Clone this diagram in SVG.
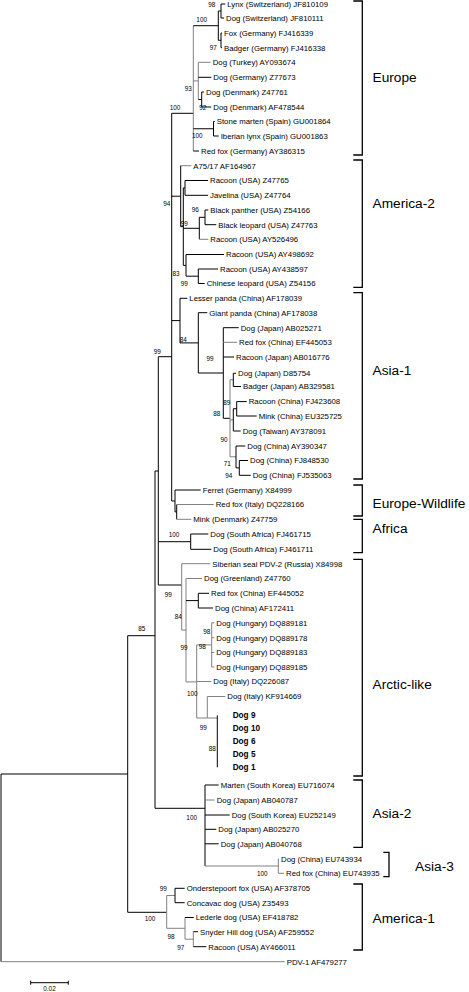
<svg xmlns="http://www.w3.org/2000/svg" width="469" height="992" viewBox="0 0 469 992">
<style>
.t{font-family:"Liberation Sans",Arial,sans-serif;font-size:7.8px;fill:#000}
.b{font-family:"Liberation Sans",Arial,sans-serif;font-size:8.2px;font-weight:bold;fill:#000}
.bs{font-family:"Liberation Sans",Arial,sans-serif;font-size:6.4px;fill:#000;text-anchor:middle}
.cl{font-family:"Liberation Sans",Arial,sans-serif;font-size:13.7px;fill:#000}
.k{fill:none;stroke:#000;stroke-width:1}
.g{fill:none;stroke:#808080;stroke-width:1}
.br{fill:none;stroke:#000;stroke-width:1.3}
</style>
<rect width="469" height="992" fill="#fff"/>
<g id="connectors">
<path class="k" d="M1,774V961.7M1,774H127.7M127.7,635.7V912.3M127.7,635.7H155M127.7,912.3H166.7M155,471V808.3M155,471H158.3M155,808.3H205M158.3,356.7V585M158.3,356.7H171.7M158.3,541.7H190.7M158.3,585H181.7M171.7,113.3V501M171.7,113.3H193.3M171.7,196.2H180.7M171.7,320.6H180M171.7,501H175"/>
<path class="g" d="M1,961.7H284.7"/>
<path class="g" d="M193.3,25.7V151"/>
<path class="k" d="M193.3,25.7H218.3M218.3,11V40.3M218.3,11H221M221,4V18M221,4H225.3M221,18H224M218.3,40.3H221M221,33V47.7M221,33H222M221,47.7H222"/>
<path class="g" d="M193.3,80.9H198.3M198.3,62.3V99.5M198.3,62.3H210.7"/>
<path class="k" d="M198.3,77.3H211.3M198.3,99.5H201.7M201.7,92V107M201.7,92H204M201.7,107H211.3M193.3,128.75H213.5M213.5,121.5V136M213.5,121.5H214.7M213.5,136H218.7M193.3,151H199"/>
<path class="g" d="M180.7,165.7H191.3"/>
<path class="k" d="M180.7,165.7V226.6M180.7,226.6H183.3M183.3,187.9V265.4M183.3,187.9H185M185,180.5V195.3M185,180.5H208M185,195.3H208M183.3,228.3H199.3M199.3,217.3V239.3M199.3,217.3H205M205,210V224.7M205,210H208.3M205,224.7H216.3"/>
<path class="g" d="M199.3,239.3H208.3"/>
<path class="k" d="M183.3,265.4H186M186,254.5V276.2M186,254.5H224M186,276.2H198.3M198.3,269V283.5M198.3,269H218M198.3,283.5H204.7"/>
<path class="k" d="M180,298.3V342.9M180,298.3H187.3M180,342.9H198.3M198.3,312.7V373M198.3,312.7H207.3M198.3,373H223.3M223.3,327.7V418.3M223.3,327.7H238.7M223.3,357H234M223.3,418.3H230"/>
<path class="g" d="M223.3,342.3H237M230,379.8V456.8M230,379.8H233.3M230,419.9H233.3M230,456.8H236"/>
<path class="k" d="M233.3,373.3V386.5M233.3,373.3H236M233.3,386.5H241M233.3,408.7V431M233.3,408.7H236.7M233.3,431H240.7M236.7,401.6V416M236.7,401.6H246.7M236.7,416H256.7M236,446V467.9M236,446H245.3M236,467.9H239.3M239.3,460.5V475.3M239.3,460.5H248M239.3,475.3H250.7"/>
<path class="k" d="M175,490V511.9M175,490H200.7M175,511.9H176.7M176.7,504.5V519.3"/>
<path class="g" d="M176.7,504.5H213.7M176.7,519.3H191.3"/>
<path class="k" d="M190.7,534V549.3M190.7,534H208.3M190.7,549.3H211.3"/>
<path class="g" d="M181.7,563.7V630.1M181.7,563.7H210.3M181.7,630.1H186M186,578.5V681.9M186,578.5H202"/>
<path class="k" d="M186,600.6H198.3M198.3,593.3V608M198.3,593.3H209M198.3,608H213"/>
<path class="g" d="M186,681.9H196.7M196.7,644.9V718M196.7,644.9H211.7M196.7,681.5H211.3M196.7,718H207.3M207.3,696.5V718M207.3,696.5H225.3M207.3,718H217.3M211.7,622.8V667M211.7,622.8H214.3M211.7,637.7H214.3M211.7,652.5H214.3M211.7,667H214.3"/>
<path class="k" d="M217.3,715.3V767.3"/>
<path class="k" d="M205,785V866M205,785H218.7M205,815H229.7M205,829.3H216.3M205,843.8H218.7"/>
<path class="g" d="M205,800H214.7M205,866H278.3M278.3,859V873.3M278.3,859H279M278.3,873.3H284"/>
<path class="g" d="M166.7,895.5V928.3M166.7,895.5H175M166.7,928.3H185M185,917.5V939.2M185,939.2H193.3M193.3,931.7V946.7"/>
<path class="k" d="M175,888.3V902.7M175,888.3H184.7M175,902.7H184.7M185,917.5H193.7M193.3,931.7H198M193.3,946.7H206.3"/>
</g>
<g id="leaves">
<g id="n1"><text class="t" x="227.3" y="6.8">Lynx (Switzerland) JF810109</text></g>
<g id="n2"><text class="t" x="226" y="20.8">Dog (Switzerland) JF810111</text></g>
<g id="n3"><text class="t" x="224" y="35.8">Fox (Germany) FJ416339</text></g>
<g id="n4"><text class="t" x="224" y="50.5">Badger (Germany) FJ416338</text></g>
<g id="n5"><text class="t" x="212.7" y="65.1">Dog (Turkey) AY093674</text></g>
<g id="n6"><text class="t" x="213.3" y="80.1">Dog (Germany) Z77673</text></g>
<g id="n7"><text class="t" x="206" y="94.8">Dog (Denmark) Z47761</text></g>
<g id="n8"><text class="t" x="213.3" y="109.8">Dog (Denmark) AF478544</text></g>
<g id="n9"><text class="t" x="216.7" y="124.3">Stone marten (Spain) GU001864</text></g>
<g id="n10"><text class="t" x="220.7" y="138.8">Iberian lynx (Spain) GU001863</text></g>
<g id="n11"><text class="t" x="201" y="153.8">Red fox (Germany) AY386315</text></g>
<g id="n12"><text class="t" x="193.3" y="168.5">A75/17 AF164967</text></g>
<g id="n13"><text class="t" x="210" y="183.3">Racoon (USA) Z47765</text></g>
<g id="n14"><text class="t" x="210" y="198.1">Javelina (USA) Z47764</text></g>
<g id="n15"><text class="t" x="210.3" y="212.8">Black panther (USA) Z54166</text></g>
<g id="n16"><text class="t" x="218.3" y="227.5">Black leopard (USA) Z47763</text></g>
<g id="n17"><text class="t" x="210.3" y="242.1">Racoon (USA) AY526496</text></g>
<g id="n18"><text class="t" x="226" y="257.3">Racoon (USA) AY498692</text></g>
<g id="n19"><text class="t" x="220" y="271.8">Racoon (USA) AY438597</text></g>
<g id="n20"><text class="t" x="206.7" y="286.3">Chinese leopard (USA) Z54156</text></g>
<g id="n21"><text class="t" x="189.3" y="301.1">Lesser panda (China) AF178039</text></g>
<g id="n22"><text class="t" x="209.3" y="315.5">Giant panda (China) AF178038</text></g>
<g id="n23"><text class="t" x="240.7" y="330.5">Dog (Japan) AB025271</text></g>
<g id="n24"><text class="t" x="239" y="345.1">Red fox (China) EF445053</text></g>
<g id="n25"><text class="t" x="236" y="359.8">Racoon (Japan) AB016776</text></g>
<g id="n26"><text class="t" x="238" y="376.1">Dog (Japan) D85754</text></g>
<g id="n27"><text class="t" x="243" y="389.3">Badger (Japan) AB329581</text></g>
<g id="n28"><text class="t" x="248.7" y="404.4">Racoon (China) FJ423608</text></g>
<g id="n29"><text class="t" x="258.7" y="418.8">Mink (China) EU325725</text></g>
<g id="n30"><text class="t" x="242.7" y="433.8">Dog (Taiwan) AY378091</text></g>
<g id="n31"><text class="t" x="247.3" y="448.8">Dog (China) AY390347</text></g>
<g id="n32"><text class="t" x="250" y="463.3">Dog (China) FJ848530</text></g>
<g id="n33"><text class="t" x="252.7" y="478.1">Dog (China) FJ535063</text></g>
<g id="n34"><text class="t" x="202.7" y="492.8">Ferret (Germany) X84999</text></g>
<g id="n35"><text class="t" x="215.7" y="507.3">Red fox (Italy) DQ228166</text></g>
<g id="n36"><text class="t" x="193.3" y="522.1">Mink (Denmark) Z47759</text></g>
<g id="n37"><text class="t" x="210.3" y="536.8">Dog (South Africa) FJ461715</text></g>
<g id="n38"><text class="t" x="213.3" y="552.1">Dog (South Africa) FJ461711</text></g>
<g id="n39"><text class="t" x="212.3" y="566.5">Siberian seal PDV-2 (Russia) X84998</text></g>
<g id="n40"><text class="t" x="204" y="581.3">Dog (Greenland) Z47760</text></g>
<g id="n41"><text class="t" x="211" y="596.1">Red fox (China) EF445052</text></g>
<g id="n42"><text class="t" x="215" y="610.8">Dog (China) AF172411</text></g>
<g id="n43"><text class="t" x="216.3" y="625.6">Dog (Hungary) DQ889181</text></g>
<g id="n44"><text class="t" x="216.3" y="640.5">Dog (Hungary) DQ889178</text></g>
<g id="n45"><text class="t" x="216.3" y="655.3">Dog (Hungary) DQ889183</text></g>
<g id="n46"><text class="t" x="216.3" y="669.8">Dog (Hungary) DQ889185</text></g>
<g id="n47"><text class="t" x="213.3" y="684.3">Dog (Italy) DQ226087</text></g>
<g id="n48"><text class="t" x="227.3" y="699.3">Dog (Italy) KF914669</text></g>
<g id="n49"><text class="b" x="232.7" y="718.3">Dog 9</text></g>
<g id="n50"><text class="b" x="232.7" y="731">Dog 10</text></g>
<g id="n51"><text class="b" x="232.7" y="744">Dog 6</text></g>
<g id="n52"><text class="b" x="232.7" y="757">Dog 5</text></g>
<g id="n53"><text class="b" x="232.7" y="770.3">Dog 1</text></g>
<g id="n54"><text class="t" x="220.7" y="787.8">Marten (South Korea) EU716074</text></g>
<g id="n55"><text class="t" x="216.7" y="802.8">Dog (Japan) AB040787</text></g>
<g id="n56"><text class="t" x="231.7" y="817.8">Dog (South Korea) EU252149</text></g>
<g id="n57"><text class="t" x="218.3" y="832.1">Dog (Japan) AB025270</text></g>
<g id="n58"><text class="t" x="220.7" y="846.6">Dog (Japan) AB040768</text></g>
<g id="n59"><text class="t" x="281" y="861.8">Dog (China) EU743934</text></g>
<g id="n60"><text class="t" x="286" y="876.1">Red fox (China) EU743935</text></g>
<g id="n61"><text class="t" x="186.7" y="891.1">Onderstepoort fox (USA) AF378705</text></g>
<g id="n62"><text class="t" x="186.7" y="905.5">Concavac dog (USA) Z35493</text></g>
<g id="n63"><text class="t" x="195.7" y="920.3">Lederle dog (USA) EF418782</text></g>
<g id="n64"><text class="t" x="200" y="934.5">Snyder Hill dog (USA) AF259552</text></g>
<g id="n65"><text class="t" x="208.3" y="949.5">Racoon (USA) AY466011</text></g>
<g id="n66"><text class="t" x="286.7" y="964.5">PDV-1 AF479277</text></g>
</g>
<g id="bootstrap">
<text class="bs" x="211.7" y="7.2">98</text>
<text class="bs" x="201.7" y="22.2">100</text>
<text class="bs" x="213.3" y="50.2">97</text>
<text class="bs" x="188.3" y="90.5">93</text>
<text class="bs" x="175" y="109.5">100</text>
<text class="bs" x="202.7" y="109.5">92</text>
<text class="bs" x="197.3" y="137.9">100</text>
<text class="bs" x="166.7" y="206.2">94</text>
<text class="bs" x="195.3" y="212.2">96</text>
<text class="bs" x="184.3" y="225.5">99</text>
<text class="bs" x="176" y="275.5">83</text>
<text class="bs" x="184.3" y="285.5">99</text>
<text class="bs" x="183.3" y="341.5">84</text>
<text class="bs" x="157.3" y="353.9">99</text>
<text class="bs" x="210" y="360.5">99</text>
<text class="bs" x="226.7" y="404.5">89</text>
<text class="bs" x="216.7" y="415.5">88</text>
<text class="bs" x="224" y="442.2">90</text>
<text class="bs" x="227.3" y="466.2">71</text>
<text class="bs" x="228.7" y="478.2">94</text>
<text class="bs" x="174" y="537.2">100</text>
<text class="bs" x="168.3" y="597.2">99</text>
<text class="bs" x="178.3" y="618.9">84</text>
<text class="bs" x="141.7" y="630.5">85</text>
<text class="bs" x="206.7" y="633.9">98</text>
<text class="bs" x="202.3" y="648.9">98</text>
<text class="bs" x="184" y="649.9">99</text>
<text class="bs" x="192.3" y="695.5">100</text>
<text class="bs" x="203.3" y="729.5">99</text>
<text class="bs" x="212.3" y="751.2">88</text>
<text class="bs" x="191.7" y="819.9">100</text>
<text class="bs" x="262.3" y="875.5">100</text>
<text class="bs" x="163.3" y="890.5">99</text>
<text class="bs" x="150" y="921.2">100</text>
<text class="bs" x="171" y="938.9">98</text>
<text class="bs" x="180.7" y="949.9">97</text>
</g>
<g id="clades">
<path class="br" d="M353.3,1H362.3V155H353.3M353.3,160H362.3V287.3H353.3M353.3,292.7H362.3V479H353.3M353.3,485H362.3V516H353.3M353.3,519.3H362.3V552.7H353.3M353.3,559.3H362.3V776H353.3M353.3,780H362.3V847.3H353.3M383.3,852.3H389V876.7H383.3M353.3,884H362.3V950H353.3"/>
<text class="cl" x="372.5" y="82">Europe</text>
<text class="cl" x="372.5" y="208">America-2</text>
<text class="cl" x="372.5" y="375">Asia-1</text>
<text class="cl" x="372.5" y="508">Europe-Wildlife</text>
<text class="cl" x="372.5" y="533">Africa</text>
<text class="cl" x="372.5" y="689">Arctic-like</text>
<text class="cl" x="372.5" y="818">Asia-2</text>
<text class="cl" x="415" y="871">Asia-3</text>
<text class="cl" x="372.5" y="923">America-1</text>
</g>
<g id="scale">
<path class="k" d="M30.7,982.7H68.3M30.7,980.7V984.7M68.3,980.7V984.7"/>
<text class="bs" x="49.5" y="990.5">0.02</text>
</g>
</svg>
